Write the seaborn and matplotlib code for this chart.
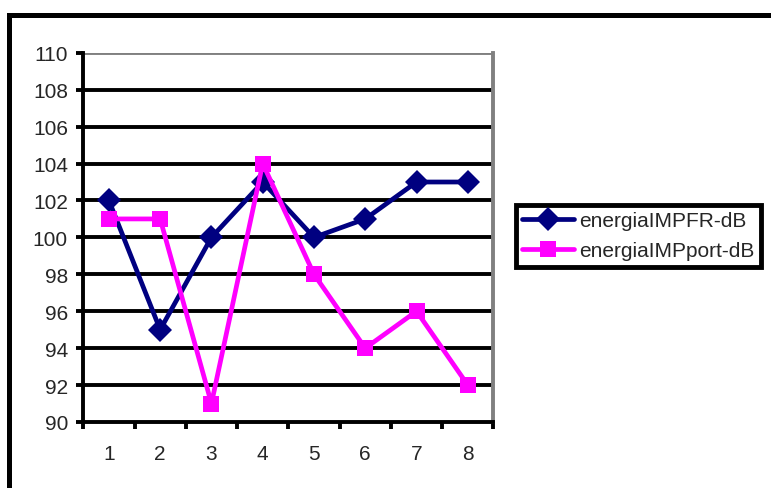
import pandas as pd
import matplotlib.pyplot as plt
import seaborn as sns
from matplotlib.patches import Rectangle

# values
positions = [1, 2, 3, 4, 5, 6, 7, 8]
impfr_db = [102, 95, 100, 103, 100, 101, 103, 103]
impport_db = [101, 101, 91, 104, 98, 94, 96, 92]
series_names = ["energiaIMPFR-dB", "energiaIMPport-dB"]

data = pd.DataFrame({
    "x": positions * 2,
    "value": impfr_db + impport_db,
    "serie": [series_names[0]] * len(positions) + [series_names[1]] * len(positions),
})

sns.set_style("white")
plt.rcParams["font.family"] = ["Liberation Sans", "DejaVu Sans"]

fig = plt.figure(figsize=(7.71, 4.89), dpi=100)
ax = fig.add_axes([0.108, 0.135, 0.532, 0.755])

sns.lineplot(
    data=data, x="x", y="value", hue="serie", style="serie",
    palette=["#000080", "#FF00FF"], markers=["D", "s"], dashes=False,
    markersize=12, linewidth=3.4, markeredgewidth=0, ax=ax,
)

ax.set_xlim(0.5, 8.5)
ax.set_ylim(90, 110)
ax.set_yticks(range(90, 111, 2))
ax.set_xticks([p - 0.5 for p in positions] + [8.5])
ax.set_xticklabels([])
ax.set_xticks(positions, minor=True)
ax.set_xticklabels([str(p) for p in positions], minor=True)
ax.tick_params(axis="x", which="major", direction="out", length=5, width=2.8, color="black")
ax.tick_params(axis="x", which="minor", length=0, pad=16, labelsize=15)
ax.tick_params(axis="y", direction="out", length=5, width=2.8, color="black", labelsize=15, pad=6)
ax.tick_params(left=True, bottom=True)

for y in range(92, 110, 2):
    ax.axhline(y, color="black", linewidth=2.8, zorder=0)
ax.axhline(110, color="#808080", linewidth=2.8, zorder=0)

ax.spines["left"].set_linewidth(2.8)
ax.spines["left"].set_color("black")
ax.spines["bottom"].set_linewidth(2.8)
ax.spines["bottom"].set_color("black")
ax.spines["right"].set_color("#808080")
ax.spines["right"].set_linewidth(2.8)
ax.spines["top"].set_visible(False)
ax.set_xlabel("")
ax.set_ylabel("")

leg = ax.legend(
    loc="center left", bbox_to_anchor=(0.669, 0.516), bbox_transform=fig.transFigure,
    frameon=True, fancybox=False, framealpha=1, fontsize=15, handlelength=2.5,
    borderpad=0.3, labelspacing=0.55, handletextpad=0.25, borderaxespad=0,
)
leg.get_frame().set_edgecolor("black")
leg.get_frame().set_linewidth(3.5)

# outer chart frame
fig.patches.append(Rectangle((0.0123, -0.1), 1.1, 1.068, transform=fig.transFigure,
                             fill=False, edgecolor="black", linewidth=3.6))

fig.savefig("out.png", dpi=100)
